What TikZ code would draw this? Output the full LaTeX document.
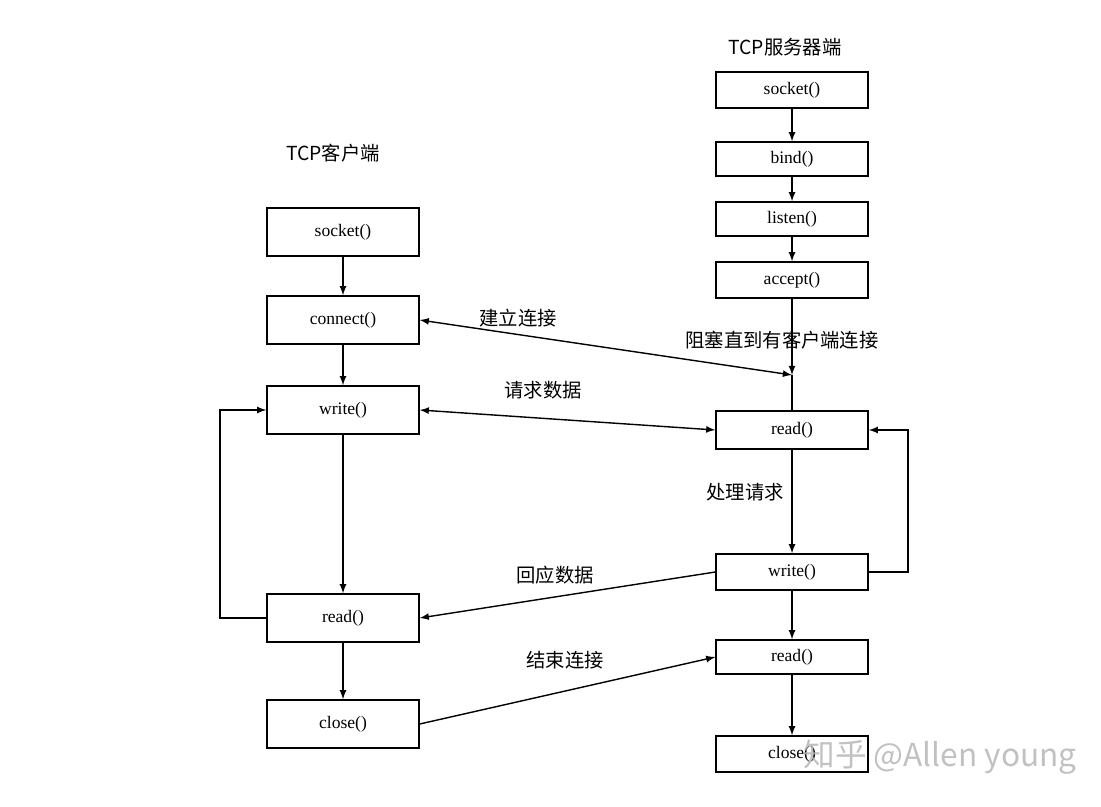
\documentclass[tikz,border=0pt]{standalone}
\usepackage{fontspec}
\setmainfont{Liberation Serif}
\newfontfamily\cjk{Noto Sans CJK SC}
\begin{document}
\begin{tikzpicture}[x=0.02cm,y=-0.02cm,
 box/.style={draw,thick,minimum width=3.04cm,inner sep=0pt,font=\fontsize{10}{12}\selectfont},
 lbl/.style={font=\cjk\fontsize{11}{13}\selectfont},
 arr/.style={thick,-latex},
 darr/.style={thick,latex-latex}]
\useasboundingbox (0,0) rectangle (1101,807);
% client
\node[box,minimum height=0.96cm] (cs) at (343,232) {socket()};
\node[box,minimum height=0.96cm] (cc) at (343,320) {connect()};
\node[box,minimum height=0.96cm] (cw) at (343,410) {write()};
\node[box,minimum height=0.96cm] (cr) at (343,618) {read()};
\node[box,minimum height=0.96cm] (cl) at (343,724) {close()};
% server
\node[box,minimum height=0.72cm] (ss) at (792,90) {socket()};
\node[box,minimum height=0.68cm] (sb) at (792,159) {bind()};
\node[box,minimum height=0.68cm] (sl) at (792,219) {listen()};
\node[box,minimum height=0.72cm] (sa) at (792,280) {accept()};
\node[box,minimum height=0.76cm] (sr) at (792,430) {read()};
\node[box,minimum height=0.72cm] (sw) at (792,572) {write()};
\node[box,minimum height=0.68cm] (sr2) at (792,657) {read()};
\node[box,minimum height=0.72cm] (sc) at (792,754) {close()};
\coordinate (blk) at (792,375);
% titles and labels
\node[lbl] (t1) at (785,47) {TCP服务器端};
\node[lbl] (t2) at (333,153) {TCP客户端};
\node[lbl] (l1) at (518,318) {建立连接};
\node[lbl] (l2) at (782,340) {阻塞直到有客户端连接};
\node[lbl] (l3) at (543,390) {请求数据};
\node[lbl] (l4) at (745,492) {处理请求};
\node[lbl] (l5) at (555,575) {回应数据};
\node[lbl] (l6) at (565,660) {结束连接};
\node[font=\cjk\fontsize{18}{20}\selectfont,text=gray!60,opacity=0.8] (wm) at (940,757) {知乎 @Allen young};
% client flow
\draw[arr] (cs) -- (cc);
\draw[arr] (cc) -- (cw);
\draw[arr] (cw) -- (cr);
\draw[arr] (cr) -- (cl);
\draw[arr] (cr.west) -- (220,618) -- (220,410) -- (cw.west);
% server flow
\draw[arr] (ss) -- (sb);
\draw[arr] (sb) -- (sl);
\draw[arr] (sl) -- (sa);
\draw[arr] (sa) -- (blk);
\draw[thick] (blk) -- (sr);
\draw[arr] (sr) -- (sw);
\draw[arr] (sw) -- (sr2);
\draw[arr] (sr2) -- (sc);
\draw[arr] (sw.east) -- (908,572) -- (908,430) -- (sr.east);
% between
\draw[darr] (cc.east) -- (blk);
\draw[darr] (cw.east) -- (sr.west);
\draw[arr] (sw.west) -- (cr.east);
\draw[arr] (cl.east) -- (sr2.west);
\end{tikzpicture}
\end{document}
